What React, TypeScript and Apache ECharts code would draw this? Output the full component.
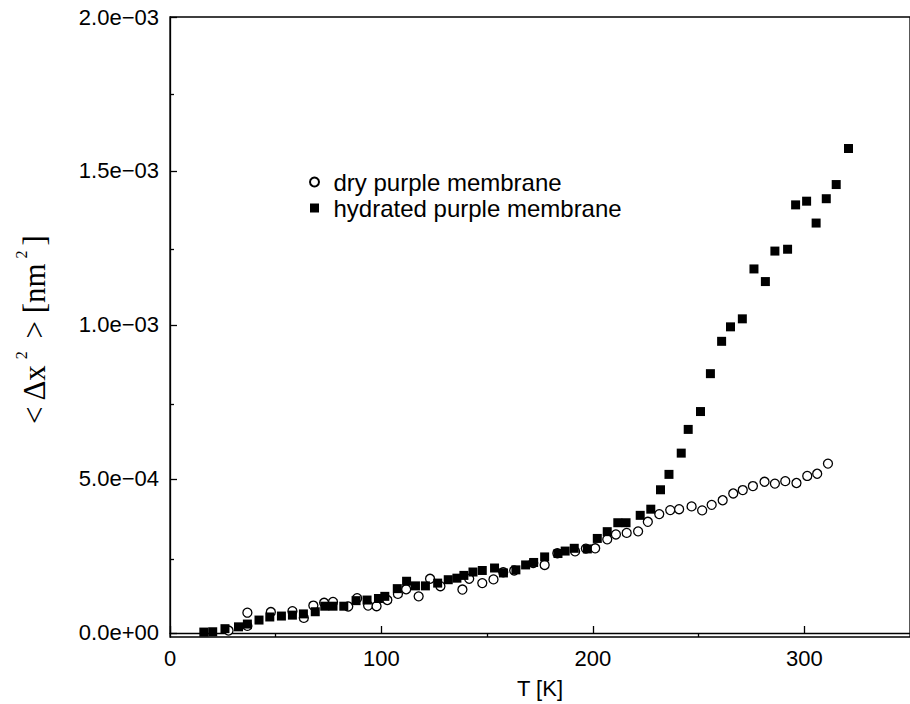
import React, { useEffect, useRef } from "react";
import * as echarts from "echarts";

// Temperature [K] and mean square displacement <Δx²> [nm²]
const dryT = [27.7, 36.6, 36.6, 47.7, 57.9, 63.3, 67.8, 72.9, 77.1, 84.3, 88.5, 93.7, 97.7, 102.8, 107.8, 111.7, 117.6, 123.0, 127.9, 138.3, 141.5, 147.7, 153.0, 157.6, 162.8, 171.8, 177.2, 183.2, 191.6, 196.7, 201.1, 206.8, 210.9, 216.0, 221.4, 226.0, 231.4, 236.6, 240.8, 246.7, 251.7, 256.2, 261.4, 266.4, 270.9, 275.7, 281.2, 286.1, 291.0, 296.3, 301.4, 306.1, 311.2];
const dryMSD = [0.08e-4, 0.66e-4, 0.23e-4, 0.68e-4, 0.71e-4, 0.49e-4, 0.89e-4, 0.98e-4, 1.01e-4, 0.86e-4, 1.13e-4, 0.89e-4, 0.87e-4, 1.07e-4, 1.27e-4, 1.42e-4, 1.19e-4, 1.76e-4, 1.52e-4, 1.41e-4, 1.76e-4, 1.62e-4, 1.74e-4, 1.97e-4, 2.03e-4, 2.27e-4, 2.21e-4, 2.59e-4, 2.65e-4, 2.74e-4, 2.75e-4, 3.04e-4, 3.20e-4, 3.25e-4, 3.30e-4, 3.61e-4, 3.86e-4, 3.99e-4, 4.02e-4, 4.11e-4, 3.98e-4, 4.16e-4, 4.31e-4, 4.53e-4, 4.64e-4, 4.77e-4, 4.91e-4, 4.85e-4, 4.93e-4, 4.87e-4, 5.10e-4, 5.17e-4, 5.50e-4];

const hydT = [16.0, 20.2, 26.0, 32.4, 36.6, 42.1, 47.2, 52.7, 57.9, 63.1, 68.7, 73.2, 77.1, 82.2, 88.0, 93.2, 98.6, 101.6, 107.5, 111.9, 116.1, 120.8, 126.6, 131.6, 135.7, 139.0, 143.3, 147.7, 153.5, 157.7, 163.6, 168.2, 172.0, 177.2, 183.5, 186.9, 191.2, 197.4, 202.1, 206.8, 211.8, 215.7, 222.4, 227.4, 232.0, 236.0, 241.8, 245.1, 250.9, 255.6, 260.9, 265.1, 270.7, 276.2, 281.6, 286.1, 292.1, 295.9, 301.1, 305.6, 310.4, 315.1, 320.9];
const hydMSD = [0.03e-4, 0.04e-4, 0.14e-4, 0.20e-4, 0.29e-4, 0.42e-4, 0.52e-4, 0.55e-4, 0.58e-4, 0.62e-4, 0.69e-4, 0.87e-4, 0.87e-4, 0.87e-4, 1.05e-4, 1.07e-4, 1.12e-4, 1.19e-4, 1.44e-4, 1.68e-4, 1.53e-4, 1.53e-4, 1.62e-4, 1.73e-4, 1.78e-4, 1.87e-4, 1.98e-4, 2.03e-4, 2.11e-4, 1.95e-4, 2.05e-4, 2.21e-4, 2.29e-4, 2.47e-4, 2.58e-4, 2.66e-4, 2.75e-4, 2.73e-4, 3.07e-4, 3.29e-4, 3.58e-4, 3.58e-4, 3.82e-4, 4.02e-4, 4.65e-4, 5.15e-4, 5.84e-4, 6.61e-4, 7.19e-4, 8.42e-4, 9.47e-4, 9.94e-4, 10.20e-4, 11.82e-4, 11.41e-4, 12.40e-4, 12.46e-4, 13.90e-4, 14.02e-4, 13.31e-4, 14.10e-4, 14.56e-4, 15.73e-4];

const seriesNames = ["dry purple membrane", "hydrated purple membrane"];

const xMajorTicks = [0, 100, 200, 300];
const xMinorTicks = [50, 150, 250];
const yMajorTicks = [0, 5e-4, 1e-3, 1.5e-3, 2e-3];
const yTickLabels = ["0.0e+00", "5.0e\u221204", "1.0e\u221203", "1.5e\u221203", "2.0e\u221203"];
const yMinorTicks = [2.5e-4, 7.5e-4, 1.25e-3, 1.75e-3];

const X_MIN = 0;
const X_MAX = 350;
const Y_MIN = -1.3e-5;
const Y_MAX = 2e-3;

const SANS = "'Liberation Sans', Arial, Helvetica, sans-serif";
const SERIF = "'Liberation Serif', 'Times New Roman', serif";

export default function App() {
  const ref = useRef<HTMLDivElement>(null);

  useEffect(() => {
    if (!ref.current) return;
    const chart = echarts.init(ref.current, undefined, { renderer: "svg" });
    const gridPos = { left: 170, top: 17, right: -9, bottom: 63 };
    const lineStyle = { color: "#000", width: 1.3 };

    const yLabel = (v: number) => {
      let best = 0;
      for (let i = 0; i < yMajorTicks.length; i++) {
        if (Math.abs(yMajorTicks[i] - v) < Math.abs(yMajorTicks[best] - v)) best = i;
      }
      return yTickLabels[best];
    };

    chart.setOption({
      animation: false,
      backgroundColor: "#fff",
      grid: [
        { ...gridPos, show: true, borderColor: "#000", borderWidth: 1.3, containLabel: false },
        { ...gridPos, show: false, containLabel: false },
      ],
      legend: {
        data: [
          { name: seriesNames[0], icon: "circle" },
          { name: seriesNames[1], icon: "path://M0,0H10V10H0Z" },
        ],
        orient: "vertical",
        left: 304,
        top: 165,
        itemWidth: 28,
        itemHeight: 9,
        itemGap: 2,
        symbolKeepAspect: true,
        textStyle: { fontSize: 24, fontFamily: SANS, color: "#000" },
      },
      xAxis: [
        {
          gridIndex: 0,
          type: "value",
          min: X_MIN,
          max: X_MAX,
          axisLine: { show: true, lineStyle },
          axisTick: { show: true, inside: true, length: 7, customValues: xMajorTicks, lineStyle },
          axisLabel: {
            customValues: xMajorTicks,
            fontSize: 22,
            fontFamily: SANS,
            color: "#000",
            margin: 10,
          },
          splitLine: { show: false },
          name: "T [K]",
          nameLocation: "middle",
          nameGap: 40,
          nameTextStyle: { fontSize: 22, fontFamily: SANS, color: "#000" },
        },
        {
          gridIndex: 1,
          type: "value",
          min: X_MIN,
          max: X_MAX,
          axisLine: { show: false },
          axisTick: { show: true, inside: true, length: 4, customValues: xMinorTicks, lineStyle },
          axisLabel: { show: false },
          splitLine: { show: false },
        },
      ],
      yAxis: [
        {
          gridIndex: 0,
          type: "value",
          min: Y_MIN,
          max: Y_MAX,
          axisLine: { show: true, lineStyle },
          axisTick: { show: true, inside: true, length: 7, customValues: yMajorTicks, lineStyle },
          axisLabel: {
            customValues: yMajorTicks,
            formatter: yLabel,
            fontSize: 22,
            fontFamily: SANS,
            color: "#000",
            margin: 11,
          },
          splitLine: { show: false },
        },
        {
          gridIndex: 1,
          type: "value",
          min: Y_MIN,
          max: Y_MAX,
          axisLine: { show: false },
          axisTick: { show: true, inside: true, length: 4, customValues: yMinorTicks, lineStyle },
          axisLabel: { show: false },
          splitLine: { show: false },
        },
      ],
      graphic: [
        {
          type: "text",
          x: 34,
          y: 330,
          rotation: Math.PI / 2,
          style: {
            text: "{n|< Δx}{s|2}{n| > [nm}{s|2}{n|]}",
            align: "center",
            verticalAlign: "middle",
            rich: {
              n: { fontSize: 31, fontFamily: SERIF, fill: "#000", lineHeight: 42 },
              s: { fontSize: 16, fontFamily: SERIF, fill: "#000", verticalAlign: "top", lineHeight: 16, padding: [0, 5, 0, 5] },
            },
          },
        },
      ],
      series: [
        {
          name: seriesNames[0],
          type: "scatter",
          xAxisIndex: 0,
          yAxisIndex: 0,
          symbol: "circle",
          symbolSize: 9,
          itemStyle: { color: "#fff", borderColor: "#000", borderWidth: 1.3, opacity: 1 },
          data: dryT.map((t, i) => [t, dryMSD[i]]),
          z: 2,
        },
        {
          name: seriesNames[1],
          type: "scatter",
          xAxisIndex: 0,
          yAxisIndex: 0,
          symbol: "rect",
          symbolSize: 9,
          itemStyle: { color: "#000", opacity: 1 },
          data: hydT.map((t, i) => [t, hydMSD[i]]),
          z: 3,
        },
      ],
    });
    return () => chart.dispose();
  }, []);

  return (
    <div
      ref={ref}
      style={{ position: "fixed", left: 0, top: 0, width: 910, height: 704, background: "#fff" }}
    />
  );
}
